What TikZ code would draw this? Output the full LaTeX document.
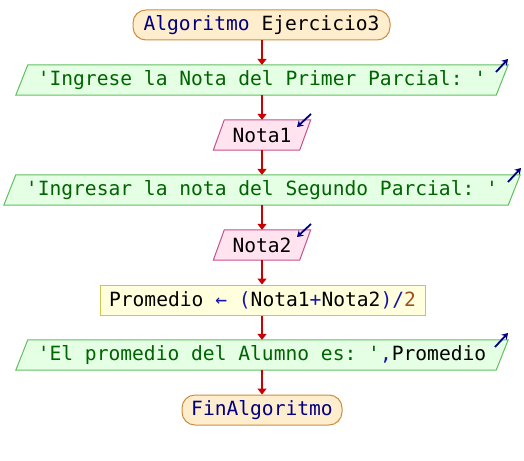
\documentclass[tikz,border=0pt]{standalone}
\usepackage{fontspec}
\setmonofont{DejaVu Sans Mono}
\usetikzlibrary{arrows.meta,backgrounds,calc}

\definecolor{kwcol}{RGB}{0,0,128}
\definecolor{strcol}{RGB}{0,100,0}
\definecolor{opcol}{RGB}{20,20,170}
\definecolor{numcol}{RGB}{160,80,30}
\definecolor{flowcol}{RGB}{204,0,0}
\definecolor{termfill}{RGB}{255,238,206}
\definecolor{termline}{RGB}{208,140,60}
\definecolor{outfill}{RGB}{228,255,228}
\definecolor{outline}{RGB}{96,192,96}
\definecolor{infill}{RGB}{255,228,240}
\definecolor{inline}{RGB}{200,80,140}
\definecolor{procfill}{RGB}{255,255,221}
\definecolor{procline}{RGB}{200,200,80}

\newcommand{\kw}[1]{\textcolor{kwcol}{#1}}
\newcommand{\str}[1]{\textcolor{strcol}{#1}}
\newcommand{\op}[1]{\textcolor{opcol}{#1}}
\newcommand{\num}[1]{\textcolor{numcol}{#1}}

% slanted outline around a node: #1 node name, #2 half slant, #3 fill, #4 line
\newcommand{\slantbox}[4]{%
  \begin{pgfonlayer}{background}
    \draw[line width=1pt, draw=#4, fill=#3]
      ($(#1.north west)+(#2,0)$) -- ($(#1.north east)+(#2,0)$) --
      ($(#1.south east)+(-#2,0)$) -- ($(#1.south west)+(-#2,0)$) -- cycle;
  \end{pgfonlayer}}

\begin{document}
\begin{tikzpicture}[x=1pt, y=-1pt,
  every node/.style={font=\fontsize{19.6}{22}\selectfont\ttfamily, inner sep=0pt, minimum height=30},
  term/.style={draw=termline, fill=termfill, line width=1pt, rounded corners=13},
  io/.style={draw=none},
  proc/.style={draw=procline, fill=procfill, line width=1pt},
  flow/.style={draw=flowcol, line width=1.6pt, -{Triangle[length=6pt,width=9pt]}},
  ioicon/.style={draw=kwcol, line width=1.8pt, -{Stealth[length=6pt,width=7.5pt]}}]

\begin{pgfonlayer}{background}
  \fill[white] (0,0) rectangle (524,460);
\end{pgfonlayer}
\useasboundingbox (0,0) rectangle (524,460);

\node[term, minimum width=257] (start) at (261.5,25) {\kw{Algoritmo} Ejercicio3};

\node[io, minimum width=480] (out1) at (262,80) {\str{'Ingrese la Nota del Primer Parcial: '}};
\slantbox{out1}{6}{outfill}{outline}

\node[io, minimum width=86] (in1) at (262,135) {Nota1};
\slantbox{in1}{5.5}{infill}{inline}

\node[io, minimum width=504] (out2) at (262,190) {\str{'Ingresar la nota del Segundo Parcial: '}};
\slantbox{out2}{6}{outfill}{outline}

\node[io, minimum width=86] (in2) at (262,245) {Nota2};
\slantbox{in2}{5.5}{infill}{inline}

\node[proc, minimum width=325] (avg) at (262.5,300)
  {Promedio \op{←} \op{(}Nota1\op{+}Nota2\op{)/}\num{2}};

\node[io, minimum width=480] (out3) at (262,355) {\str{'El promedio del Alumno es: '}\op{,}Promedio};
\slantbox{out3}{6}{outfill}{outline}

\node[term, minimum width=160] (stop) at (262,410) {\kw{FinAlgoritmo}};

% flow connectors
\draw[flow] (start.south -| out1.north) -- (out1.north);
\draw[flow] (out1.south) -- (in1.north);
\draw[flow] (in1.south) -- (out2.north);
\draw[flow] (out2.south) -- (in2.north);
\draw[flow] (in2.south) -- (avg.north -| in2.north);
\draw[flow] (avg.south -| out3.north) -- (out3.north);
\draw[flow] (out3.south) -- (stop.north);

% output / input markers
\coordinate (o1a) at (496,72);  \coordinate (o1b) at (508,59);
\coordinate (o2a) at (508,182); \coordinate (o2b) at (521,168);
\coordinate (o3a) at (495,347); \coordinate (o3b) at (508,333);
\coordinate (i1a) at (311,114); \coordinate (i1b) at (297,127);
\coordinate (i2a) at (311,224); \coordinate (i2b) at (297,237);
\draw[ioicon] (o1a) -- (o1b);
\draw[ioicon] (o2a) -- (o2b);
\draw[ioicon] (o3a) -- (o3b);
\draw[ioicon] (i1a) -- (i1b);
\draw[ioicon] (i2a) -- (i2b);
\end{tikzpicture}
\end{document}
